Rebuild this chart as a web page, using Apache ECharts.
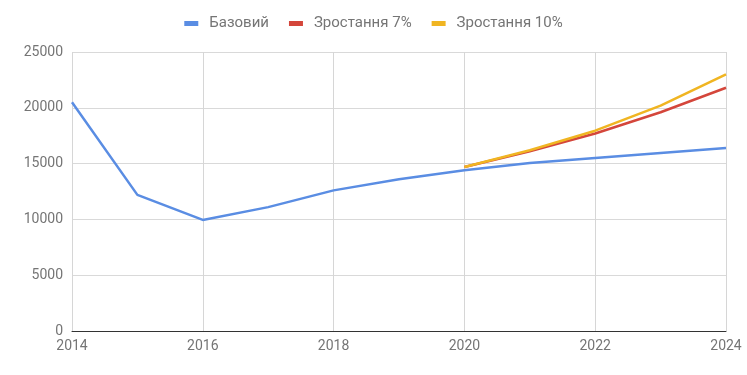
<!DOCTYPE html>
<html><head><meta charset="utf-8">
<script src="https://cdn.jsdelivr.net/npm/echarts@6/dist/echarts.min.js"></script>
<style>html,body{margin:0;padding:0;background:#fff}#c{width:747px;height:375px}</style>
</head><body><div id="c"></div>
<script>
const years = [2014,2015,2016,2017,2018,2019,2020,2021,2022,2023,2024];
const baseValues = [20500,12200,9950,11100,12600,13600,14400,15050,15500,15950,16400];
const growthYears = [2020,2021,2022,2023,2024];
const growth7 = [14700,16100,17700,19600,21800];
const growth10 = [14700,16200,17950,20200,23000];
const seriesNames = ['Базовий','Зростання 7%','Зростання 10%'];

const pairs = (xs, ys) => xs.map((x,i)=>[x, ys[i]]);
const chart = echarts.init(document.getElementById('c'));
const font = 'Roboto';
chart.setOption({
  animation:false,
  color:['#5a8de3','#d4463b','#f0b522'],
  legend:{top:11,left:'center',itemWidth:14,itemHeight:5,itemGap:20,icon:'rect',
    textStyle:{fontFamily:font,fontSize:15,color:'#757575',padding:[0,0,0,6]}},
  grid:{left:72,right:21,top:52,bottom:44},
  xAxis:{type:'value',min:2014,max:2024,interval:2,
    axisLine:{show:true,lineStyle:{color:'#333',width:1}},axisTick:{show:false},
    splitLine:{show:true,lineStyle:{color:'#d6d6d6'}},
    axisLabel:{fontFamily:font,fontSize:14,color:'#757575',margin:8,formatter:v=>String(v)}},
  yAxis:{type:'value',min:0,max:25000,interval:5000,
    axisLine:{show:false},axisTick:{show:false},
    splitLine:{show:true,lineStyle:{color:'#d9d9d9'}},
    axisLabel:{fontFamily:font,fontSize:14,color:'#757575',margin:9,formatter:v=>String(v)}},
  series:[
    {name:seriesNames[0],type:'line',data:pairs(years,baseValues),showSymbol:false,lineStyle:{width:2.5}},
    {name:seriesNames[1],type:'line',data:pairs(growthYears,growth7),showSymbol:false,lineStyle:{width:2.5}},
    {name:seriesNames[2],type:'line',data:pairs(growthYears,growth10),showSymbol:false,lineStyle:{width:2.5}}
  ]
});
</script></body></html>
